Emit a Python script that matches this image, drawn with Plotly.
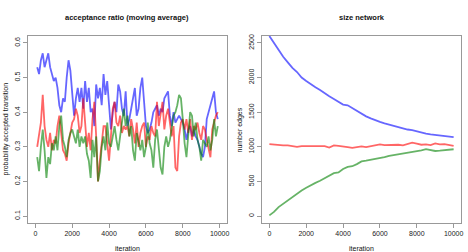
import plotly.graph_objects as go

# ---------------- data: acceptance ratio (moving average) ----------------
acc_iter = list(range(100, 10000, 100))
acc_blue = [0.53, 0.51, 0.55, 0.57, 0.53, 0.55, 0.57, 0.53, 0.51, 0.49,
            0.50, 0.47, 0.42, 0.40, 0.44, 0.43, 0.50, 0.55, 0.52, 0.46,
            0.39, 0.44, 0.47, 0.43, 0.47, 0.41, 0.49, 0.43, 0.47, 0.40,
            0.41, 0.36, 0.48, 0.44, 0.47, 0.42, 0.51, 0.45, 0.49, 0.42,
            0.35, 0.40, 0.43, 0.40, 0.48, 0.46, 0.41, 0.39, 0.46, 0.36,
            0.38, 0.41, 0.44, 0.47, 0.39, 0.41, 0.47, 0.50, 0.43, 0.36,
            0.34, 0.35, 0.37, 0.40, 0.41, 0.42, 0.39, 0.41, 0.40, 0.44,
            0.45, 0.46, 0.39, 0.36, 0.40, 0.37, 0.38, 0.39, 0.38, 0.37,
            0.35, 0.32, 0.35, 0.36, 0.33, 0.35, 0.33, 0.32, 0.30, 0.28,
            0.27, 0.30, 0.38, 0.40, 0.42, 0.44, 0.46, 0.40, 0.38]
acc_red = [0.30, 0.34, 0.37, 0.45, 0.36, 0.32, 0.30, 0.34, 0.29, 0.32,
           0.31, 0.36, 0.39, 0.34, 0.29, 0.28, 0.26, 0.31, 0.34, 0.37,
           0.38, 0.41, 0.39, 0.34, 0.36, 0.44, 0.37, 0.30, 0.34, 0.29,
           0.38, 0.43, 0.33, 0.20, 0.26, 0.32, 0.36, 0.36, 0.30, 0.26,
           0.33, 0.41, 0.43, 0.37, 0.36, 0.39, 0.34, 0.36, 0.35, 0.36,
           0.33, 0.38, 0.35, 0.31, 0.37, 0.30, 0.34, 0.36, 0.37, 0.30,
           0.33, 0.32, 0.36, 0.34, 0.33, 0.43, 0.36, 0.39, 0.43, 0.35,
           0.39, 0.41, 0.36, 0.33, 0.36, 0.24, 0.23, 0.33, 0.37, 0.38,
           0.35, 0.38, 0.34, 0.38, 0.32, 0.36, 0.35, 0.37, 0.34, 0.32,
           0.36, 0.35, 0.32, 0.29, 0.27, 0.35, 0.37, 0.39, 0.40]
acc_green = [0.27, 0.23, 0.30, 0.35, 0.29, 0.21, 0.27, 0.25, 0.31, 0.29,
             0.33, 0.29, 0.36, 0.39, 0.32, 0.30, 0.27, 0.32, 0.34, 0.35,
             0.33, 0.31, 0.35, 0.30, 0.33, 0.31, 0.33, 0.28, 0.26, 0.21,
             0.32, 0.27, 0.33, 0.20, 0.23, 0.30, 0.33, 0.29, 0.37, 0.31,
             0.30, 0.33, 0.36, 0.32, 0.29, 0.33, 0.38, 0.41, 0.36, 0.39,
             0.33, 0.36, 0.29, 0.26, 0.34, 0.31, 0.29, 0.32, 0.27, 0.30,
             0.37, 0.31, 0.29, 0.24, 0.32, 0.35, 0.30, 0.24, 0.22, 0.30,
             0.33, 0.30, 0.32, 0.36, 0.39, 0.40, 0.42, 0.45, 0.44, 0.38,
             0.31, 0.27, 0.35, 0.40, 0.39, 0.33, 0.37, 0.32, 0.30, 0.26,
             0.32, 0.31, 0.30, 0.33, 0.29, 0.32, 0.38, 0.33, 0.36]

# ---------------- data: size network ----------------
size_iter = list(range(0, 10001, 250))
size_blue = [2600, 2500, 2400, 2300, 2220, 2140, 2080, 2000, 1950, 1900,
             1860, 1820, 1770, 1730, 1690, 1650, 1610, 1600, 1560, 1510,
             1470, 1440, 1410, 1380, 1360, 1340, 1320, 1300, 1280, 1260,
             1250, 1240, 1220, 1200, 1190, 1180, 1170, 1165, 1160, 1140, 1140]
size_red = [1040, 1030, 1030, 1020, 1020, 1010, 1000, 1010, 1010, 1015,
            1010, 1020, 1010, 990, 1020, 1015, 1010, 995, 985, 1000,
            1005, 995, 1010, 1020, 1035, 1025, 1030, 1025, 1030, 1020,
            1035, 1060, 1045, 1030, 1035, 1025, 1050, 1035, 1040, 1030, 1015]
size_green = [10, 60, 130, 180, 230, 270, 320, 370, 410, 450,
              480, 510, 550, 590, 620, 630, 680, 710, 720, 750,
              790, 800, 810, 820, 830, 850, 870, 880, 890, 900,
              910, 920, 930, 950, 965, 955, 940, 945, 955, 965, 965]

x_ticks = [0, 2000, 4000, 6000, 8000, 10000]
x_ticklabels = ["0", "2000", "4000", "6000", "8000", "10000"]
acc_ticks = [0.1, 0.2, 0.3, 0.4, 0.5, 0.6]
acc_ticklabels = ["0.1", "0.2", "0.3", "0.4", "0.5", "0.6"]
size_ticks = [0, 500, 1000, 1500, 2000, 2500]
size_ticklabels = ["0", "500", "1000", "1500", "2000", "2500"]

BLUE = "rgba(0,0,255,0.6)"
RED = "rgba(255,0,0,0.6)"
GREEN = "rgba(0,128,0,0.6)"
FONT = "Liberation Sans, Arial, sans-serif"

W, H = 468, 252

fig = go.Figure()
for ys, c in [(acc_blue, BLUE), (acc_red, RED), (acc_green, GREEN)]:
    fig.add_trace(go.Scatter(x=acc_iter, y=ys, mode="lines",
                             line=dict(color=c, width=1.8),
                             xaxis="x", yaxis="y", showlegend=False))
for ys, c in [(size_blue, BLUE), (size_red, RED), (size_green, GREEN)]:
    fig.add_trace(go.Scatter(x=size_iter, y=ys, mode="lines",
                             line=dict(color=c, width=1.8),
                             xaxis="x2", yaxis="y2", showlegend=False))

frame = "#999999"
ax_common = dict(showgrid=False, zeroline=False, showline=True, linecolor=frame,
                 linewidth=1, mirror=True, ticks="outside", ticklen=4,
                 tickcolor=frame, tickwidth=1, automargin=False,
                 tickfont=dict(size=7, color="#222222", family=FONT))

x0l, x1l = 28, 227
x0r, x1r = 262, 461
ytop, ybot = 36, 223

fig.update_layout(
    width=W, height=H,
    margin=dict(l=0, r=0, t=0, b=0, autoexpand=False),
    paper_bgcolor="white", plot_bgcolor="white",
    xaxis=dict(domain=[x0l / W, x1l / W], anchor="y", range=[-400, 10400],
               tickvals=x_ticks, ticktext=x_ticklabels, **ax_common),
    yaxis=dict(domain=[1 - ybot / H, 1 - ytop / H], anchor="x", range=[0.08, 0.62],
               tickvals=acc_ticks, ticktext=acc_ticklabels, tickangle=-90, **ax_common),
    xaxis2=dict(domain=[x0r / W, x1r / W], anchor="y2", range=[-400, 10400],
                tickvals=x_ticks, ticktext=x_ticklabels, **ax_common),
    yaxis2=dict(domain=[1 - ybot / H, 1 - ytop / H], anchor="x2", range=[-100, 2600],
                tickvals=size_ticks, ticktext=size_ticklabels, tickangle=-90, **ax_common),
)

def ann(text, x, y, size=7, bold=False, angle=0):
    fig.add_annotation(text=("<b>%s</b>" % text) if bold else text,
                       x=x / W, y=1 - y / H, xref="paper", yref="paper",
                       showarrow=False, textangle=angle,
                       xanchor="center", yanchor="middle",
                       font=dict(size=size, color="#111111", family=FONT))

ann("acceptance ratio (moving average)", (x0l + x1l) / 2, 18, size=7.5, bold=True)
ann("size network", (x0r + x1r) / 2, 18, size=7.5, bold=True)
ann("iteration", (x0l + x1l) / 2, 248, size=7)
ann("iteration", (x0r + x1r) / 2, 248, size=7)
ann("probability accepted transition", 5, (ytop + ybot) / 2, size=7, angle=-90)
ann("number edges", 239, (ytop + ybot) / 2, size=7, angle=-90)

fig.write_html("out.html", config={"displayModeBar": False},
               post_script="document.body.style.margin='0px';document.body.style.overflow='hidden';")
